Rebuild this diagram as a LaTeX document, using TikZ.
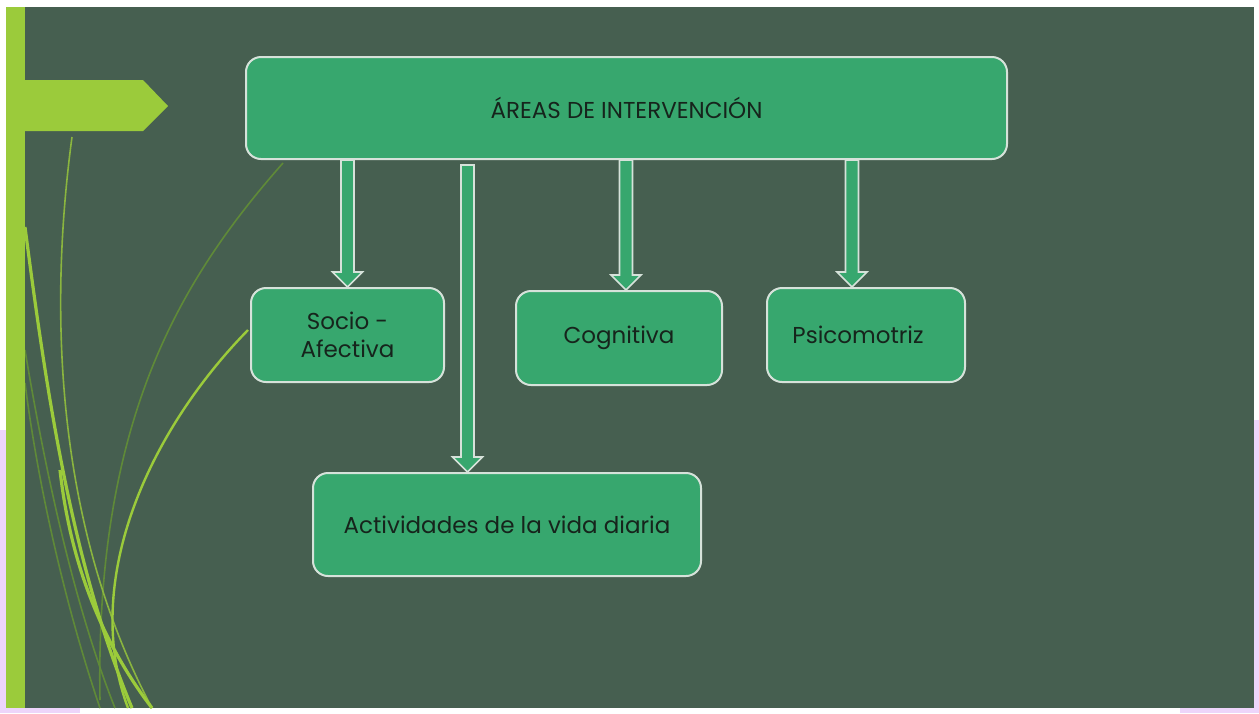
\documentclass[tikz,border=0pt]{standalone}
\usepackage{fontspec}
\setmainfont{Poppins}
\usetikzlibrary{calc}

\definecolor{fondo}{HTML}{465F50}
\definecolor{verde}{HTML}{37A76E}
\definecolor{borde}{HTML}{D6E2DA}
\definecolor{lima}{HTML}{9BCB3B}
\definecolor{oliva}{HTML}{5F8A38}
\definecolor{letra}{HTML}{16241C}
\definecolor{lila}{HTML}{EDD5FA}

\tikzset{
  caja/.style={draw=borde, fill=verde, line width=1pt, rounded corners=7.5pt,
    align=center, text=letra, font=\fontsize{11.5}{14}\selectfont},
  flecha/.style={draw=borde, fill=verde, line width=0.8pt,
    to path={let \p1=(\tikztostart), \p2=(\tikztotarget) in
      (\x1-3.25pt,\y1) -- (\x1-3.25pt,\y2+7.5pt) -- (\x1-7.5pt,\y2+7.5pt) -- (\x1,\y2)
      -- (\x1+7.5pt,\y2+7.5pt) -- (\x1+3.25pt,\y2+7.5pt) -- (\x1+3.25pt,\y1) -- cycle}},
  hoja/.style={line width=1.6pt, lima},
  hojafina/.style={line width=0.8pt, oliva}
}

\begin{document}
\begin{tikzpicture}[x=0.5pt, y=-0.5pt]
  % fondo
  \fill[white] (0,0) rectangle (1259,713);
  \useasboundingbox (0,0) rectangle (1259,713);
  \fill[lila] (0,430) rectangle (6,713);
  \fill[lila] (0,708) rectangle (80,713);
  \fill[lila] (1254,420) rectangle (1259,713);
  \fill[lila] (1180,708) rectangle (1259,713);
  \fill[fondo] (6,7) rectangle (1254,708);

  % hojas
  \draw[hojafina] (283,163) .. controls (180,280) and (95,420) .. (100,700);
  \draw[hojafina] (25,350) .. controls (50,500) and (80,620) .. (115,708);
  \draw[hojafina] (25,383) .. controls (40,500) and (70,620) .. (100,708);
  \draw[hojafina, lima!80!fondo] (72,137) .. controls (50,300) and (52,520) .. (152,708);
  \draw[hoja] (25,227) .. controls (45,380) and (70,560) .. (132,708);
  \draw[hoja] (60,470) .. controls (70,560) and (100,640) .. (152,708);
  \draw[hoja, line width=1.2pt] (248,330) .. controls (150,430) and (80,580) .. (128,708);

  % barra y banderin
  \fill[lima] (6,7) rectangle (25,708);
  \fill[lima] (25,80) -- (143,80) -- (168,106) -- (143,131) -- (25,131) -- cycle;

  % cajas
  \node[caja, minimum width=380.5pt, minimum height=51pt] (areas) at (626.5,108) {ÁREAS DE INTERVENCIÓN};
  \node[caja, minimum width=96.5pt, minimum height=47pt] (socio) at (347.5,335) {Socio -\\Afectiva};
  \node[caja, minimum width=103pt, minimum height=47pt] (cogni) at (619,338) {Cognitiva};
  \node[caja, minimum width=99pt, minimum height=47pt] (psico) at (866,335) {Psicomotriz\hspace*{8pt}};
  \node[caja, minimum width=194pt, minimum height=51.5pt] (activ) at (507,524.5) {Actividades de la vida diaria};

  % flechas
  \coordinate (p1) at (socio.north);
  \coordinate (p2) at ([xshift=-19.75pt]activ.north);
  \coordinate (p3) at ([xshift=3.5pt]cogni.north);
  \coordinate (p4) at ([xshift=-7pt]psico.north);
  \coordinate (arr) at ([yshift=-2.5pt]areas.south);
  \draw[flecha] (p1 |- areas.south) to (p1);
  \draw[flecha] (p2 |- arr) to (p2);
  \draw[flecha] (p3 |- areas.south) to (p3);
  \draw[flecha] (p4 |- areas.south) to (p4);
\end{tikzpicture}
\end{document}
